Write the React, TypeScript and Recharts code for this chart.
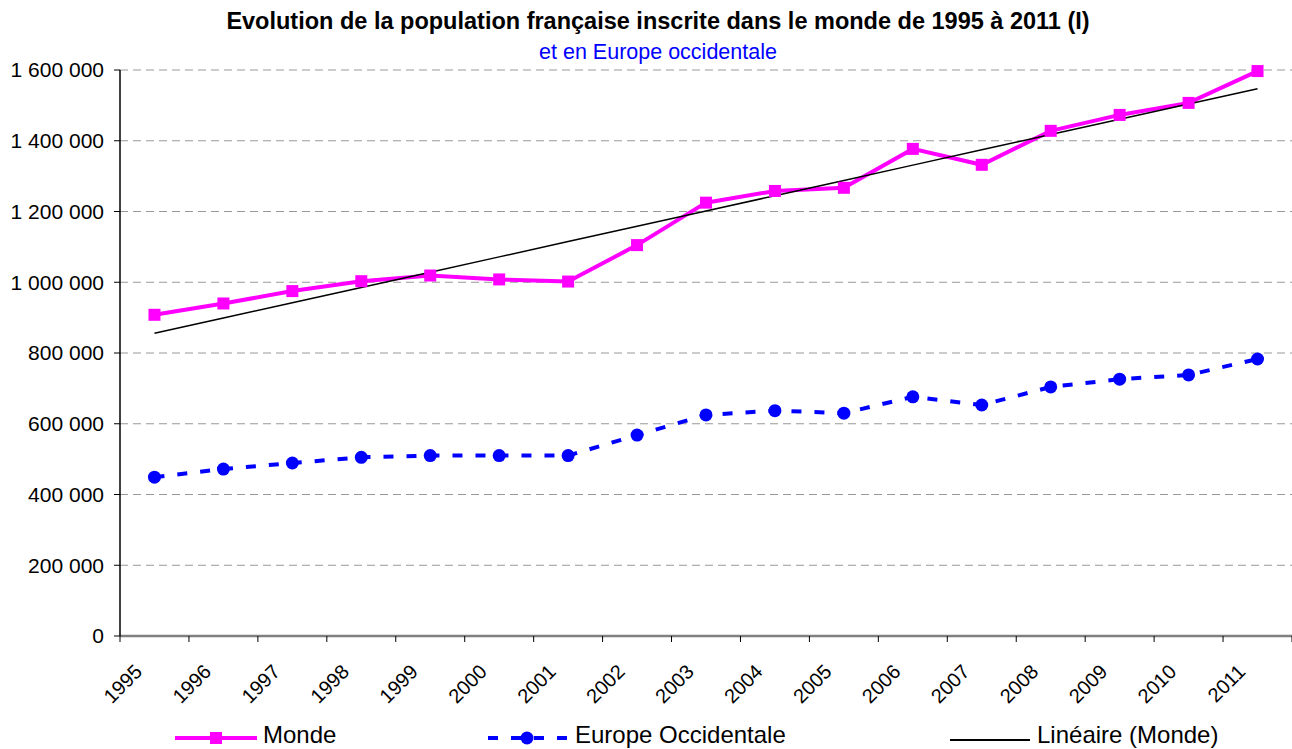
import * as React from 'react'
import { CartesianGrid, Line, LineChart, XAxis, YAxis } from 'recharts'

const years = [1995, 1996, 1997, 1998, 1999, 2000, 2001, 2002, 2003, 2004, 2005, 2006, 2007, 2008, 2009, 2010, 2011]
const monde = [908000, 940000, 975000, 1003000, 1019000, 1008000, 1002000, 1105000, 1225000, 1258000, 1267000, 1377000, 1332000, 1428000, 1473000, 1507000, 1597000]
const europe = [449000, 472000, 489000, 505000, 510000, 510000, 510000, 568000, 625000, 637000, 630000, 676000, 653000, 704000, 726000, 738000, 783000]
const yTicks = [0, 200000, 400000, 600000, 800000, 1000000, 1200000, 1400000, 1600000]

const W = 1292
const H = 749
const PLOT_LEFT = 120
const CAT_W = (W - PLOT_LEFT) / years.length
const FONT = '"Liberation Sans", Arial, sans-serif'

// Excel-style linear trend line of the Monde series (least squares)
const trend = (() => {
  const n = monde.length
  const mx = (n - 1) / 2
  const my = monde.reduce((a, b) => a + b, 0) / n
  let sxy = 0
  let sxx = 0
  monde.forEach((v, i) => {
    sxy += (i - mx) * (v - my)
    sxx += (i - mx) * (i - mx)
  })
  const slope = sxy / sxx
  return monde.map((_, i) => my + slope * (i - mx))
})()

const data = years.map((year, i) => ({
  x: i + 0.5,
  year,
  monde: monde[i],
  europe: europe[i],
  trend: trend[i],
}))

const fmt = (v: number) => String(v).replace(/\B(?=(\d{3})+(?!\d))/g, ' ')

const YearTick = (props: any) => {
  const { x, y, payload } = props
  const idx = payload.value
  if (idx >= years.length) return <g />
  const cx = x + CAT_W / 2
  return (
    <g transform={`translate(${cx - 11},${y + 29})`}>
      <text textAnchor="end" transform="rotate(-45)" fontSize={20} fontFamily={FONT} fill="#000">
        {years[idx]}
      </text>
    </g>
  )
}

const SquareDot = (props: any) => {
  const { cx, cy, index } = props
  return <rect key={index} x={cx - 6} y={cy - 6} width={12} height={12} fill="#FF00FF" />
}

const CircleDot = (props: any) => {
  const { cx, cy, index } = props
  return <ellipse key={index} cx={cx} cy={cy} rx={6.5} ry={6.5} fill="#0000FF" />
}

export default function App() {
  return (
    <div style={{ position: 'absolute', left: 0, top: 0, width: W, height: H, background: '#fff', fontFamily: FONT }}>
      <div style={{ position: 'absolute', left: 0, width: 1316, top: 7, textAlign: 'center', fontWeight: 'bold', fontSize: 23.5, lineHeight: '28px' }}>
        Evolution de la population française inscrite dans le monde de 1995 à 2011 (I)
      </div>
      <div style={{ position: 'absolute', left: 0, width: 1316, top: 39, textAlign: 'center', color: '#0000FF', fontSize: 21.5, lineHeight: '26px' }}>
        et en Europe occidentale
      </div>
      <LineChart width={W} height={H} data={data} margin={{ top: 70, right: 0, left: 0, bottom: 0 }}>
        <CartesianGrid vertical={false} stroke="#999999" strokeDasharray="8 5" />
        <XAxis
          type="number"
          dataKey="x"
          domain={[0, years.length]}
          ticks={years.map((_, i) => i).concat([years.length])}
          interval={0}
          height={113}
          axisLine={{ stroke: '#808080', strokeWidth: 2.5 }}
          tickLine={{ stroke: '#000' }}
          tickSize={6}
          tick={<YearTick />}
        />
        <YAxis
          domain={[0, 1600000]}
          ticks={yTicks}
          interval={0}
          width={PLOT_LEFT}
          axisLine={{ stroke: '#000', strokeWidth: 1.5 }}
          tickLine={{ stroke: '#000' }}
          tickSize={6}
          tickMargin={10}
          tickFormatter={fmt}
          tick={{ fill: '#000', fontSize: 21, fontFamily: FONT }}
        />
        <Line dataKey="monde" stroke="#FF00FF" strokeWidth={4} dot={<SquareDot />} isAnimationActive={false} />
        <Line dataKey="europe" stroke="#0000FF" strokeWidth={4} strokeDasharray="10 13" dot={<CircleDot />} isAnimationActive={false} />
        <Line dataKey="trend" stroke="#000" strokeWidth={1.5} dot={false} isAnimationActive={false} />
      </LineChart>
      <svg width={W} height={40} style={{ position: 'absolute', left: 0, top: 709 }}>
        <g fontFamily={FONT} fontSize={24} fill="#000">
          <line x1={175} x2={257} y1={29} y2={29} stroke="#FF00FF" strokeWidth={4} />
          <rect x={210} y={23} width={12} height={12} fill="#FF00FF" />
          <text x={263} y={34}>Monde</text>
          <line x1={488} x2={572} y1={29} y2={29} stroke="#0000FF" strokeWidth={4} strokeDasharray="10 13" />
          <circle cx={527} cy={29} r={6.5} fill="#0000FF" />
          <text x={575} y={34}>Europe Occidentale</text>
          <line x1={950} x2={1030} y1={31} y2={31} stroke="#000" strokeWidth={2} />
          <text x={1037} y={34}>Linéaire (Monde)</text>
        </g>
      </svg>
    </div>
  )
}
